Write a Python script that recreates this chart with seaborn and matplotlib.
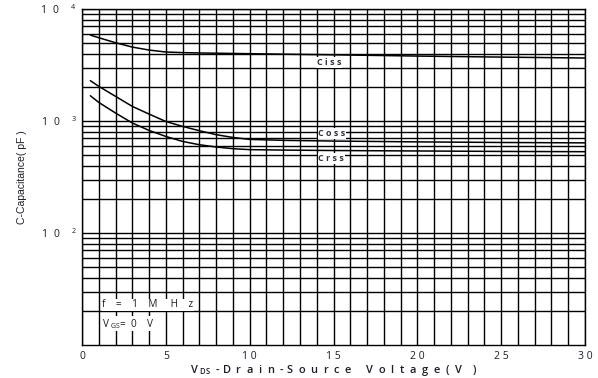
import numpy as np
import pandas as pd
import matplotlib
matplotlib.use("Agg")
import matplotlib.pyplot as plt
import seaborn as sns

# Capacitance vs drain-source voltage (pF)
vds = [0.5, 1, 2, 3, 4, 5, 6, 7, 8, 9, 10, 12, 15, 20, 25, 30]
ciss = [5850, 5540, 5000, 4570, 4300, 4130, 4080, 4050, 4030, 4010, 3990, 3950, 3900, 3800, 3720, 3650]
coss = [2290, 2040, 1660, 1350, 1153, 990, 895, 819, 755, 713, 685, 672, 662, 651, 643, 638]
crss = [1680, 1466, 1178, 960, 824, 728, 657, 614, 586, 566, 555, 550, 545, 540, 535, 532]

x_ticks = [0, 5, 10, 15, 20, 25, 30]
x_tick_labels = ["0", "5", "1 0", "1 5", "2 0", "2 5", "3 0"]
y_ticks = [1e2, 1e3, 1e4]
y_tick_labels = [r"$\mathregular{1\ \ 0^{\hspace{1.6}2}}$",
                 r"$\mathregular{1\ \ 0^{\hspace{1.6}3}}$",
                 r"$\mathregular{1\ \ 0^{\hspace{1.6}4}}$"]

df = pd.DataFrame({
    "Vds": vds * 3,
    "C": ciss + coss + crss,
    "series": ["Ciss"] * len(vds) + ["Coss"] * len(vds) + ["Crss"] * len(vds),
})

sns.set_style("white")
plt.rcParams["font.family"] = ["Open Sans", "DejaVu Sans"]
text_color = "#1c1c2a"

fig = plt.figure(figsize=(5.98, 3.78), dpi=100)
ax = fig.add_axes([82 / 598, 1 - 345 / 378, (585 - 82) / 598, (345 - 9) / 378])

sns.lineplot(data=df, x="Vds", y="C", units="series", estimator=None,
             color="black", linewidth=1.1, ax=ax, legend=False)

ax.set_yscale("log")
ax.set_xlim(0, 30)
ax.set_ylim(10, 1e4)

# grid: every volt, log minor lines
ax.set_xticks(np.arange(0, 31, 1), minor=True)
ax.set_xticks(x_ticks)
ax.set_xticklabels(x_tick_labels, fontsize=7.5, color=text_color)
ax.set_yticks(y_ticks)
ax.set_yticklabels(y_tick_labels, fontsize=7.5, color=text_color)
ax.yaxis.set_minor_locator(matplotlib.ticker.LogLocator(base=10, subs=np.arange(2, 10)))
ax.yaxis.set_minor_formatter(matplotlib.ticker.NullFormatter())
ax.grid(True, which="both", color="black", linewidth=1.0)
ax.tick_params(which="both", length=0, pad=4)
for s in ax.spines.values():
    s.set_color("black")
    s.set_linewidth(1.0)

ax.set_xlabel(r"V $_{\mathregular{DS}}$  - D  r  a  i  n  - S  o  u  r  c  e     "
              r"V  o  l  t  a  g  e  (  V    )",
              fontsize=7.9, labelpad=1, color=text_color, fontweight="semibold")
ax.set_ylabel("C-Capacitance( pF )", fontsize=7.5, labelpad=10,
              family=["Liberation Sans", "DejaVu Sans"], color=text_color)

lab = dict(fontsize=6.5, fontweight="bold", color="#333344", va="center",
           bbox=dict(facecolor="white", edgecolor="none", pad=0.5))
ax.text(14.0, 3330, "C i s s", **lab)
ax.text(14.1, 773, "C o s s", **lab)
ax.text(14.1, 462, "C r s s", **lab)

ann = dict(fontsize=7.2, color=text_color, va="center",
           bbox=dict(facecolor="white", edgecolor="none", pad=0.3))
ax.text(1.2, 10 ** (4 - (305 - 9.3) / 112), "f    =    1    M     H    z", **ann)
ax.text(1.2, 10 ** (4 - (324 - 9.3) / 112), r"V $_{\mathregular{GS}}$=  0    V", **ann)

fig.savefig("out.png", dpi=100)
